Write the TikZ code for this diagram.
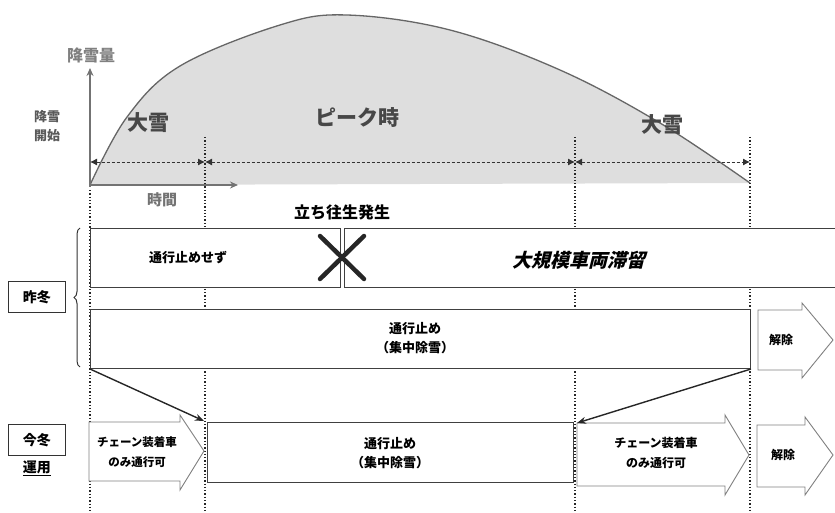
\documentclass[tikz,border=0pt]{standalone}
\usepackage{fontspec}
\newfontfamily\jp{Noto Sans CJK JP}
\newfontfamily\jpsl[FakeSlant=0.25]{Noto Sans CJK JP}
\usetikzlibrary{arrows.meta,decorations.pathreplacing,calc}
\begin{document}
\begin{tikzpicture}[x=1pt,y=-1pt,font=\jp\bfseries,
  box/.style={draw=black!75,line width=1pt,fill=white,inner sep=0pt,anchor=north west},
  blockarrow/.style={draw=black!50,line width=0.9pt,fill=white},
  vdot/.style={black!85,line width=1.3pt,dash pattern=on 1.3pt off 2pt},
  dim/.style={black!80,line width=0.9pt,dash pattern=on 3pt off 2pt,{Latex[length=7pt,width=7pt]}-{Latex[length=7pt,width=7pt]}},
  axis/.style={black!55,line width=1.5pt,-{Stealth[length=8pt,width=7pt]}},
  conn/.style={black!85,line width=1.4pt,-{Stealth[length=9pt,width=7pt]}},
  lbl/.style={inner sep=0pt},
  peak/.style={lbl,text=black!72,font=\jp\bfseries\fontsize{21}{21}\selectfont},
  small/.style={lbl,font=\jp\bfseries\fontsize{12}{15}\selectfont,align=center},
  season/.style={draw=black!80,line width=1pt,inner sep=0pt,minimum width=57pt,minimum height=31pt,font=\jp\bfseries\fontsize{14}{14}\selectfont}]
\useasboundingbox (0,0) rectangle (835,513);
% snowfall curve
\fill[black!13] plot[smooth,tension=0.6] coordinates {(90,185) (127,117) (180,66) (280,25) (347,15) (450,30) (560,70) (660,123) (750,183)} -- cycle;
\draw[black!60,line width=1.3pt] plot[smooth,tension=0.6] coordinates {(90,185) (127,117) (180,66) (280,25) (347,15) (450,30) (560,70) (660,123) (750,183)};
% vertical dotted guides
\coordinate (g0t) at (90,190); \coordinate (g0b) at (90,513);
\coordinate (g1t) at (205,137); \coordinate (g1b) at (205,513);
\coordinate (g2t) at (575,137); \coordinate (g2b) at (575,513);
\coordinate (g3t) at (750,137); \coordinate (g3b) at (750,513);
\draw[vdot] (g0t) -- (g0b);
\draw[vdot] (g1t) -- (g1b);
\draw[vdot] (g2t) -- (g2b);
\draw[vdot] (g3t) -- (g3b);
% axes
\coordinate (o) at (90,185);
\coordinate (ytop) at (90,68);
\coordinate (xend) at (238,185);
\draw[axis] ($(o)+(0,2)$) -- (ytop);
\draw[axis] ($(o)+(-1,0)$) -- (xend);
% dimension lines
\coordinate (d0) at (90,162); \coordinate (d1) at (205,162);
\coordinate (d2) at (575,162); \coordinate (d3) at (750,162);
\draw[dim] (d0) -- (d1);
\draw[dim] (d1) -- (d2);
\draw[dim] (d2) -- (d3);
% labels top
\node[lbl,text=black!50,font=\jp\bfseries\fontsize{16}{16}\selectfont] (ylab) at (91,55) {降雪量};
\node[lbl,text=black!65,font=\jp\bfseries\fontsize{13}{19}\selectfont,align=center] (start) at (47,126) {降雪\\開始};
\node[lbl,text=black!55,font=\jp\bfseries\fontsize{15}{15}\selectfont] (xlab) at (162,200) {時間};
\node[peak] (heavy1) at (148,123) {大雪};
\node[peak] (peaklab) at (357,118) {ピーク時};
\node[peak] (heavy2) at (662,125) {大雪};
\node[lbl,font=\jp\bfseries\fontsize{16}{16}\selectfont] (stuck) at (342,212) {立ち往生発生};
% last winter rows
\node[box,minimum width=250pt,minimum height=59pt] (r1a) at (90,228) {};
\node[box,minimum width=500pt,minimum height=59pt] (r1b) at (344,228) {};
\node[small,font=\jp\bfseries\fontsize{13}{13}\selectfont] (r1atext) at (188,258) {通行止めせず};
\node[lbl,font=\jpsl\bfseries\fontsize{19}{19}\selectfont] (r1btext) at (579,260) {大規模車両滞留};
\draw[black!85,line width=4.5pt,line cap=round] (320,236) -- (364,279);
\draw[black!85,line width=4.5pt,line cap=round] (320,279) -- (364,236);
\node[box,minimum width=660pt,minimum height=59pt] (r2) at (90,309) {};
\node[small,font=\jp\bfseries\fontsize{13}{19}\selectfont] (r2text) at (415,338) {通行止め\\（集中除雪）};
% release arrow (last winter)
\draw[blockarrow] (758,310) -- (802,310) -- (802,303) -- (833,340) -- (802,378) -- (802,370) -- (758,370) -- cycle;
\node[small] (rel1) at (781,340) {解除};
% brace and season label
\draw[black!80,line width=1pt,decorate,decoration={brace,amplitude=6pt}] (80,367) -- (80,228);
\node[season] (lastw) at (37,297) {昨冬};
% this winter row
\draw[blockarrow] (89,422) -- (180,422) -- (180,415) -- (204,451) -- (180,490) -- (180,481) -- (89,481) -- cycle;
\coordinate (tipA) at (204,421);
\node[small,font=\jp\bfseries\fontsize{11.5}{20}\selectfont] (chainA) at (137,452) {チェーン装着車\\のみ通行可};
\node[box,minimum width=366pt,minimum height=60pt] (mid) at (207,422) {};
\node[small,font=\jp\bfseries\fontsize{13}{19}\selectfont] (midtext) at (390,453) {通行止め\\（集中除雪）};
\draw[blockarrow] (577,423) -- (725,423) -- (725,415) -- (749,455) -- (725,495) -- (725,486) -- (577,486) -- cycle;
\coordinate (tipB) at (577,423);
\node[small,font=\jp\bfseries\fontsize{12}{20}\selectfont] (chainB) at (656,453) {チェーン装着車\\のみ通行可};
\draw[blockarrow] (757,425) -- (805,425) -- (805,417) -- (833,455) -- (805,495) -- (805,487) -- (757,487) -- cycle;
\node[small] (rel2) at (783,455) {解除};
\node[season] (thisw) at (37,440) {今冬};
\node[lbl,font=\jp\bfseries\fontsize{14}{14}\selectfont] (unyo) at (37,468) {\underline{運用}};
% connectors
\draw[conn] (r2.south west) -- (tipA);
\draw[conn] (r2.south east) -- (tipB);
\end{tikzpicture}
\end{document}
